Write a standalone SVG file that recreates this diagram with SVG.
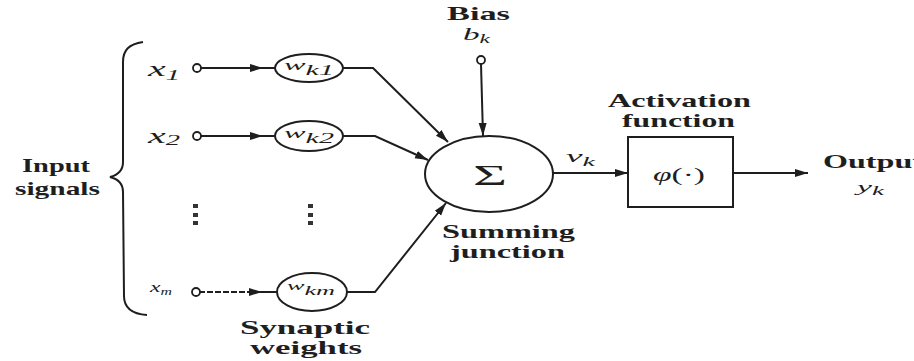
<svg xmlns="http://www.w3.org/2000/svg" width="914" height="361" viewBox="0 0 914 361">
<style>
text{font-family:"Liberation Serif","Times New Roman",serif;fill:#1e1e1e;font-weight:bold}
.lbl{font-size:19px}
.it{font-style:italic;font-weight:normal}
.nb{font-weight:normal}
.ln{fill:none;stroke:#1e1e1e;stroke-width:2}
.sh{fill:#fff;stroke:#1e1e1e;stroke-width:2}
.pt{fill:#fff;stroke:#1e1e1e;stroke-width:1.8}
.dot{fill:#333}
</style>
<defs>
<marker id="ah" markerUnits="userSpaceOnUse" markerWidth="14" markerHeight="10" refX="13" refY="5" orient="auto">
<path d="M0,1 L13,5 L0,9 z" fill="#1e1e1e"/>
</marker>
</defs>
<rect width="914" height="361" fill="#fff"/>

<g id="brace">
<path class="ln" d="M143,42 C129,44 123,50 123,62 L123,162 C123,170 118,175 110,177 C118,179 123,184 123,192 L124,296 C124,308 132,314 147,315"/>
<text class="lbl" x="22" y="172" textLength="68" lengthAdjust="spacingAndGlyphs">Input</text>
<text class="lbl" x="15" y="195" textLength="85" lengthAdjust="spacingAndGlyphs">signals</text>
</g>

<g id="connectors">
<path class="ln" d="M201,68 L263,68" marker-end="url(#ah)"/>
<path class="ln" d="M260,68 L275,68"/>
<path class="ln" d="M201,136 L263,136" marker-end="url(#ah)"/>
<path class="ln" d="M260,136 L275,136"/>
<path class="ln" d="M199,292 L262,292" stroke-dasharray="6,2" marker-end="url(#ah)"/>
<path class="ln" d="M259,292 L277,292"/>
<path class="ln" d="M343,68 L373,68 L448,142" marker-end="url(#ah)"/>
<path class="ln" d="M343,136 L375,136 L428,160" marker-end="url(#ah)"/>
<path class="ln" d="M347,292 L375,292 L446,203" marker-end="url(#ah)"/>
<path class="ln" d="M481,64 L483,136" marker-end="url(#ah)"/>
<path class="ln" d="M553,173 L628,173" marker-end="url(#ah)"/>
<path class="ln" d="M733,173 L808,173" marker-end="url(#ah)"/>
</g>

<g id="x1">
<text class="it" x="148" y="76" font-size="21" textLength="32" lengthAdjust="spacingAndGlyphs">x<tspan font-size="15" dy="4">1</tspan></text>
<circle class="pt" cx="197" cy="68" r="4"/>
</g>
<g id="x2">
<text class="it" x="148" y="143" font-size="21" textLength="32" lengthAdjust="spacingAndGlyphs">x<tspan font-size="15" dy="2">2</tspan></text>
<circle class="pt" cx="197" cy="136" r="4"/>
</g>
<g id="xm">
<text class="it" x="150" y="292" font-size="15" textLength="22" lengthAdjust="spacingAndGlyphs">x<tspan font-size="10" dy="3">m</tspan></text>
<circle class="pt" cx="196" cy="292" r="4"/>
</g>

<g id="dots">
<rect class="dot" x="193" y="204" width="5" height="4"/>
<rect class="dot" x="193" y="213" width="5" height="4"/>
<rect class="dot" x="193" y="221" width="5" height="4"/>
<rect class="dot" x="308" y="204" width="5" height="4"/>
<rect class="dot" x="308" y="213" width="5" height="4"/>
<rect class="dot" x="308" y="221" width="5" height="4"/>
</g>

<g id="wk1">
<ellipse class="sh" cx="309" cy="68" rx="34" ry="14"/>
<text class="it" x="284" y="70" font-size="15" textLength="50" lengthAdjust="spacingAndGlyphs">w<tspan font-size="14" dy="5">k1</tspan></text>
</g>
<g id="wk2">
<ellipse class="sh" cx="309" cy="136" rx="34" ry="15"/>
<text class="it" x="284" y="138" font-size="15" textLength="50" lengthAdjust="spacingAndGlyphs">w<tspan font-size="14" dy="5">k2</tspan></text>
</g>
<g id="wkm">
<ellipse class="sh" cx="312" cy="292" rx="35" ry="19"/>
<text class="it" x="287" y="290" font-size="12" textLength="48" lengthAdjust="spacingAndGlyphs">w<tspan font-size="12" dy="5">km</tspan></text>
</g>
<g id="synaptic-label">
<text class="lbl" x="240" y="334" textLength="130" lengthAdjust="spacingAndGlyphs">Synaptic</text>
<text class="lbl" x="250" y="354" textLength="112" lengthAdjust="spacingAndGlyphs">weights</text>
</g>

<g id="bias">
<text class="lbl" x="447" y="20" textLength="63" lengthAdjust="spacingAndGlyphs">Bias</text>
<text class="it" x="463" y="40" font-size="17" textLength="27" lengthAdjust="spacingAndGlyphs">b<tspan font-size="12" dy="3">k</tspan></text>
<circle class="pt" cx="481" cy="60" r="4"/>
</g>

<g id="sum">
<ellipse class="sh" cx="489" cy="174" rx="64" ry="38"/>
<text class="nb" x="473" y="185" font-size="30" textLength="34" lengthAdjust="spacingAndGlyphs">Σ</text>
<text class="lbl" x="442" y="238" textLength="133" lengthAdjust="spacingAndGlyphs">Summing</text>
<text class="lbl" x="450" y="258" textLength="115" lengthAdjust="spacingAndGlyphs">junction</text>
</g>

<g id="vk">
<text class="it" x="566" y="162" font-size="16" textLength="29" lengthAdjust="spacingAndGlyphs">v<tspan font-size="12" dy="4">k</tspan></text>
</g>

<g id="activation">
<rect class="sh" x="628" y="137" width="105" height="70"/>
<text class="nb" x="653" y="181" font-size="18" textLength="52" lengthAdjust="spacingAndGlyphs"><tspan font-style="italic">φ</tspan>(·)</text>
<text class="lbl" x="608" y="107" textLength="143" lengthAdjust="spacingAndGlyphs">Activation</text>
<text class="lbl" x="622" y="127" textLength="113" lengthAdjust="spacingAndGlyphs">function</text>
</g>

<g id="output">
<text class="lbl" x="823" y="168" textLength="100" lengthAdjust="spacingAndGlyphs">Output</text>
<text class="it" x="857" y="192" font-size="15" textLength="27" lengthAdjust="spacingAndGlyphs">y<tspan font-size="12" dy="3">k</tspan></text>
</g>
</svg>
